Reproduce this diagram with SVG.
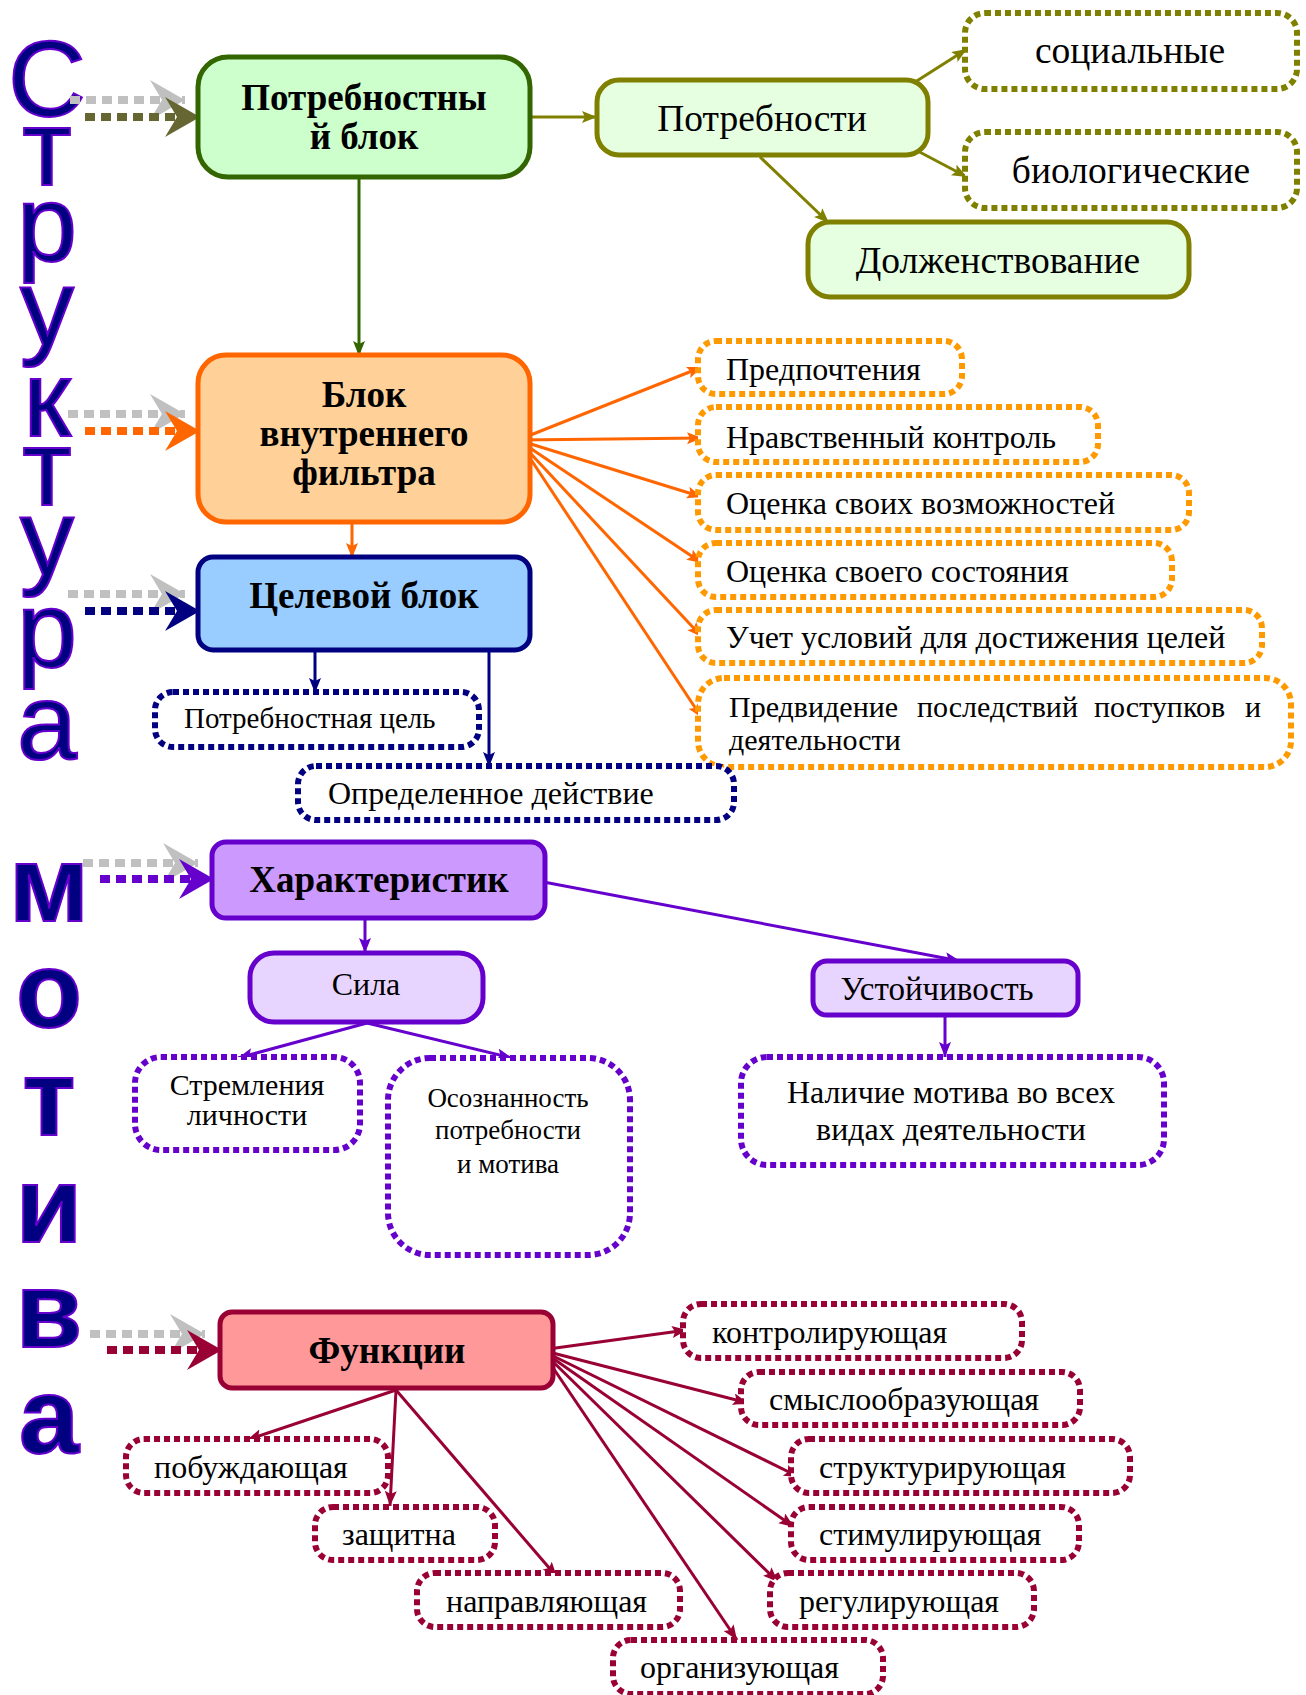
<svg xmlns="http://www.w3.org/2000/svg" width="1306" height="1695" viewBox="0 0 1306 1695">
<style>
text{font-family:"Liberation Serif","Times New Roman",serif;fill:#000}
.b{font-weight:bold;font-size:37px;text-anchor:middle}
.t36{font-size:37.5px;text-anchor:middle}
.t31{font-size:32px}
.t30{font-size:30px}
.t32{font-size:32px}
.c{text-anchor:middle}
.big{font-family:"Liberation Sans",Arial,sans-serif;font-size:108px;fill:#000080;stroke:#6600CC;stroke-width:2;text-anchor:middle}
.bigb{font-weight:bold}
.solid{stroke-width:5}
.dot{fill:#fff;stroke-width:6;stroke-dasharray:6 4}
.conn{fill:none;stroke-width:3}
.lead{fill:none;stroke-width:8;stroke-dasharray:10 6}
</style>
<defs>
<marker id="aOl" markerUnits="userSpaceOnUse" markerWidth="16" markerHeight="14" refX="15" refY="6" orient="auto"><path d="M0,0 L15,6 L0,12 L3,6 z" fill="#808000"/></marker>
<marker id="aGr" markerUnits="userSpaceOnUse" markerWidth="16" markerHeight="14" refX="15" refY="6" orient="auto"><path d="M0,0 L15,6 L0,12 L3,6 z" fill="#336600"/></marker>
<marker id="aOr" markerUnits="userSpaceOnUse" markerWidth="16" markerHeight="14" refX="15" refY="6" orient="auto"><path d="M0,0 L15,6 L0,12 L3,6 z" fill="#FF6600"/></marker>
<marker id="aNv" markerUnits="userSpaceOnUse" markerWidth="16" markerHeight="14" refX="15" refY="6" orient="auto"><path d="M0,0 L15,6 L0,12 L3,6 z" fill="#000080"/></marker>
<marker id="aPu" markerUnits="userSpaceOnUse" markerWidth="16" markerHeight="14" refX="15" refY="6" orient="auto"><path d="M0,0 L15,6 L0,12 L3,6 z" fill="#6600CC"/></marker>
<marker id="aCr" markerUnits="userSpaceOnUse" markerWidth="16" markerHeight="14" refX="15" refY="6" orient="auto"><path d="M0,0 L15,6 L0,12 L3,6 z" fill="#990033"/></marker>
<marker id="bGy" markerUnits="userSpaceOnUse" markerWidth="36" markerHeight="40" refX="35" refY="20" orient="auto"><path d="M0,0 L35,20 L0,40 L12,20 z" fill="#C0C0C0"/></marker>
<marker id="bOl" markerUnits="userSpaceOnUse" markerWidth="36" markerHeight="40" refX="35" refY="20" orient="auto"><path d="M0,0 L35,20 L0,40 L12,20 z" fill="#666633"/></marker>
<marker id="bOr" markerUnits="userSpaceOnUse" markerWidth="36" markerHeight="40" refX="35" refY="20" orient="auto"><path d="M0,0 L35,20 L0,40 L12,20 z" fill="#FF6600"/></marker>
<marker id="bNv" markerUnits="userSpaceOnUse" markerWidth="36" markerHeight="40" refX="35" refY="20" orient="auto"><path d="M0,0 L35,20 L0,40 L12,20 z" fill="#000080"/></marker>
<marker id="bPu" markerUnits="userSpaceOnUse" markerWidth="36" markerHeight="40" refX="35" refY="20" orient="auto"><path d="M0,0 L35,20 L0,40 L12,20 z" fill="#6600CC"/></marker>
<marker id="bCr" markerUnits="userSpaceOnUse" markerWidth="36" markerHeight="40" refX="35" refY="20" orient="auto"><path d="M0,0 L35,20 L0,40 L12,20 z" fill="#990033"/></marker>
</defs>
<rect width="1306" height="1695" fill="#fff"/>

<g id="title">
<text class="big" x="47" y="116">С</text>
<text class="big" x="47" y="185">т</text>
<text class="big" x="47" y="261">р</text>
<text class="big" x="47" y="345">у</text>
<text class="big" x="47" y="436">к</text>
<text class="big" x="47" y="505">т</text>
<text class="big" x="47" y="575">у</text>
<text class="big" x="47" y="667">р</text>
<text class="big" x="47" y="759">а</text>
<text class="big bigb" x="49" y="921">м</text>
<text class="big bigb" x="49" y="1027">о</text>
<text class="big bigb" x="49" y="1135">т</text>
<text class="big bigb" x="49" y="1242">и</text>
<text class="big bigb" x="49" y="1347">в</text>
<text class="big bigb" x="49" y="1453">а</text>
</g>

<g id="connectors">
<line class="lead" stroke="#C0C0C0" x1="70" y1="100" x2="185" y2="100" marker-end="url(#bGy)"/>
<line class="lead" stroke="#666633" x1="85" y1="117" x2="200" y2="117" marker-end="url(#bOl)"/>
<line class="lead" stroke="#C0C0C0" x1="68" y1="414" x2="185" y2="414" marker-end="url(#bGy)"/>
<line class="lead" stroke="#FF6600" x1="85" y1="431" x2="200" y2="431" marker-end="url(#bOr)"/>
<line class="lead" stroke="#C0C0C0" x1="68" y1="594" x2="185" y2="594" marker-end="url(#bGy)"/>
<line class="lead" stroke="#000080" x1="85" y1="611" x2="200" y2="611" marker-end="url(#bNv)"/>
<line class="lead" stroke="#C0C0C0" x1="83" y1="863" x2="198" y2="863" marker-end="url(#bGy)"/>
<line class="lead" stroke="#6600CC" x1="100" y1="879" x2="214" y2="879" marker-end="url(#bPu)"/>
<line class="lead" stroke="#C0C0C0" x1="90" y1="1334" x2="205" y2="1334" marker-end="url(#bGy)"/>
<line class="lead" stroke="#990033" x1="107" y1="1350" x2="222" y2="1350" marker-end="url(#bCr)"/>

<line class="conn" stroke="#808000" x1="520" y1="117" x2="597" y2="117" marker-end="url(#aOl)"/>
<line class="conn" stroke="#808000" x1="912" y1="84" x2="967" y2="49" marker-end="url(#aOl)"/>
<line class="conn" stroke="#808000" x1="912" y1="148" x2="967" y2="177" marker-end="url(#aOl)"/>
<line class="conn" stroke="#808000" x1="760" y1="157" x2="829" y2="223" marker-end="url(#aOl)"/>
<line class="conn" stroke="#336600" x1="359" y1="177" x2="359" y2="356" marker-end="url(#aGr)"/>
<line class="conn" stroke="#FF6600" x1="352" y1="522" x2="352" y2="558" marker-end="url(#aOr)"/>
<line class="conn" stroke="#FF6600" x1="518" y1="440" x2="702" y2="367" marker-end="url(#aOr)"/>
<line class="conn" stroke="#FF6600" x1="518" y1="440" x2="702" y2="438" marker-end="url(#aOr)"/>
<line class="conn" stroke="#FF6600" x1="518" y1="440" x2="702" y2="497" marker-end="url(#aOr)"/>
<line class="conn" stroke="#FF6600" x1="518" y1="440" x2="702" y2="563" marker-end="url(#aOr)"/>
<line class="conn" stroke="#FF6600" x1="518" y1="440" x2="702" y2="637" marker-end="url(#aOr)"/>
<line class="conn" stroke="#FF6600" x1="518" y1="440" x2="702" y2="718" marker-end="url(#aOr)"/>
<line class="conn" stroke="#000080" x1="315" y1="650" x2="315" y2="693" marker-end="url(#aNv)"/>
<line class="conn" stroke="#000080" x1="489" y1="650" x2="489" y2="767" marker-end="url(#aNv)"/>
<line class="conn" stroke="#6600CC" x1="365" y1="918" x2="365" y2="953" marker-end="url(#aPu)"/>
<line class="conn" stroke="#6600CC" x1="533" y1="880" x2="960" y2="961" marker-end="url(#aPu)"/>
<line class="conn" stroke="#6600CC" x1="367" y1="1023" x2="238" y2="1058" marker-end="url(#aPu)"/>
<line class="conn" stroke="#6600CC" x1="367" y1="1023" x2="512" y2="1058" marker-end="url(#aPu)"/>
<line class="conn" stroke="#6600CC" x1="945" y1="1015" x2="945" y2="1057" marker-end="url(#aPu)"/>
<line class="conn" stroke="#990033" x1="396" y1="1390" x2="247" y2="1440" marker-end="url(#aCr)"/>
<line class="conn" stroke="#990033" x1="396" y1="1390" x2="390" y2="1506" marker-end="url(#aCr)"/>
<line class="conn" stroke="#990033" x1="396" y1="1390" x2="557" y2="1577" marker-end="url(#aCr)"/>
<line class="conn" stroke="#990033" x1="541" y1="1350" x2="687" y2="1330" marker-end="url(#aCr)"/>
<line class="conn" stroke="#990033" x1="541" y1="1350" x2="748" y2="1403" marker-end="url(#aCr)"/>
<line class="conn" stroke="#990033" x1="541" y1="1350" x2="799" y2="1477" marker-end="url(#aCr)"/>
<line class="conn" stroke="#990033" x1="541" y1="1350" x2="794" y2="1527" marker-end="url(#aCr)"/>
<line class="conn" stroke="#990033" x1="541" y1="1350" x2="778" y2="1582" marker-end="url(#aCr)"/>
<line class="conn" stroke="#990033" x1="541" y1="1350" x2="737" y2="1640" marker-end="url(#aCr)"/>
</g>

<g id="n-potr-block"><rect class="solid" x="198" y="57" width="332" height="120" rx="30" fill="#CCFFCC" stroke="#336600"/><text class="b" x="364" y="110">Потребностны</text><text class="b" x="364" y="149">й блок</text></g>
<g id="n-potrebnosti"><rect class="solid" x="597" y="80" width="331" height="75" rx="22" fill="#E6FFE0" stroke="#808000"/><text class="t36" x="762" y="131">Потребности</text></g>
<g id="n-social"><rect class="dot" x="965" y="13" width="332" height="76" rx="20" stroke="#808000"/><text class="t36" x="1130" y="63">социальные</text></g>
<g id="n-bio"><rect class="dot" x="965" y="132" width="332" height="76" rx="20" stroke="#808000"/><text class="t36" x="1131" y="183">биологические</text></g>
<g id="n-dolzh"><rect class="solid" x="808" y="222" width="381" height="75" rx="22" fill="#E6FFE0" stroke="#808000"/><text class="t36" x="998" y="273">Долженствование</text></g>

<g id="n-filter"><rect class="solid" x="198" y="355" width="332" height="167" rx="28" fill="#FFD199" stroke="#FF6600"/><text class="b" x="364" y="407">Блок</text><text class="b" x="364" y="446">внутреннего</text><text class="b" x="364" y="485">фильтра</text></g>
<g id="n-pref"><rect class="dot" x="698" y="341" width="264" height="53" rx="18" stroke="#FF9900"/><text class="t31" x="726" y="380">Предпочтения</text></g>
<g id="n-moral"><rect class="dot" x="698" y="407" width="400" height="55" rx="18" stroke="#FF9900"/><text class="t31" x="726" y="448">Нравственный контроль</text></g>
<g id="n-ocen1"><rect class="dot" x="698" y="475" width="491" height="55" rx="18" stroke="#FF9900"/><text class="t31" x="726" y="514">Оценка своих возможностей</text></g>
<g id="n-ocen2"><rect class="dot" x="698" y="543" width="474" height="54" rx="18" stroke="#FF9900"/><text class="t31" x="726" y="582">Оценка своего состояния</text></g>
<g id="n-uchet"><rect class="dot" x="698" y="610" width="564" height="53" rx="18" stroke="#FF9900"/><text class="t31" x="726" y="648">Учет условий для достижения целей</text></g>
<g id="n-predv"><rect class="dot" x="698" y="678" width="593" height="89" rx="26" stroke="#FF9900"/><text class="t30" y="717"><tspan x="729">Предвидение</tspan><tspan x="917">последствий</tspan><tspan x="1094">поступков</tspan><tspan x="1245">и</tspan></text><text class="t30" x="729" y="750">деятельности</text></g>

<g id="n-target"><rect class="solid" x="198" y="557" width="332" height="93" rx="15" fill="#99CCFF" stroke="#000080"/><text class="b" x="364" y="608">Целевой блок</text></g>
<g id="n-goal"><rect class="dot" x="155" y="692" width="324" height="55" rx="18" stroke="#000080"/><text font-size="29" x="184" y="728">Потребностная цель</text></g>
<g id="n-action"><rect class="dot" x="298" y="766" width="436" height="54" rx="18" stroke="#000080"/><text class="t32" x="328" y="804">Определенное действие</text></g>

<g id="n-char"><rect class="solid" x="212" y="842" width="333" height="76" rx="14" fill="#CC99FF" stroke="#6600CC"/><text class="b" x="379" y="892" font-size="37.5">Характеристик</text></g>
<g id="n-sila"><rect class="solid" x="250" y="953" width="233" height="69" rx="24" fill="#E8D5FF" stroke="#6600CC"/><text class="t31 c" x="366" y="995">Сила</text></g>
<g id="n-ustoich"><rect class="solid" x="813" y="961" width="265" height="54" rx="14" fill="#E8D5FF" stroke="#6600CC"/><text class="c" font-size="33" x="937" y="1000">Устойчивость</text></g>
<g id="n-strem"><rect class="dot" x="135" y="1057" width="225" height="93" rx="26" stroke="#6600CC"/><text class="c" font-size="30" x="247" y="1095">Стремления</text><text class="c" font-size="30" x="247" y="1125">личности</text></g>
<g id="n-osozn"><rect class="dot" x="388" y="1058" width="242" height="197" rx="42" stroke="#6600CC"/><text class="c" font-size="27" x="508" y="1107">Осознанность</text><text class="c" font-size="27" x="508" y="1139">потребности</text><text class="c" font-size="27" x="508" y="1173">и мотива</text></g>
<g id="n-nalich"><rect class="dot" x="741" y="1057" width="423" height="108" rx="26" stroke="#6600CC"/><text class="t32 c" x="951" y="1103">Наличие мотива во всех</text><text class="t32 c" x="951" y="1140">видах деятельности</text></g>

<g id="n-func"><rect class="solid" x="220" y="1312" width="333" height="76" rx="12" fill="#FF9999" stroke="#990033"/><text class="b" x="387" y="1363">Функции</text></g>
<g id="n-kontrol"><rect class="dot" x="683" y="1304" width="339" height="54" rx="18" stroke="#990033"/><text class="t32" x="712" y="1343">контролирующая</text></g>
<g id="n-smysl"><rect class="dot" x="741" y="1372" width="339" height="53" rx="18" stroke="#990033"/><text class="t32" x="769" y="1410">смыслообразующая</text></g>
<g id="n-strukt"><rect class="dot" x="791" y="1439" width="339" height="54" rx="18" stroke="#990033"/><text class="t32" x="819" y="1478">структурирующая</text></g>
<g id="n-stimul"><rect class="dot" x="791" y="1507" width="288" height="53" rx="18" stroke="#990033"/><text class="t32" x="819" y="1545">стимулирующая</text></g>
<g id="n-regul"><rect class="dot" x="770" y="1573" width="264" height="54" rx="18" stroke="#990033"/><text class="t32" x="799" y="1612">регулирующая</text></g>
<g id="n-organiz"><rect class="dot" x="613" y="1640" width="270" height="54" rx="18" stroke="#990033"/><text class="t32" x="640" y="1678">организующая</text></g>
<g id="n-pobuzh"><rect class="dot" x="126" y="1439" width="262" height="54" rx="18" stroke="#990033"/><text class="t32" x="154" y="1478">побуждающая</text></g>
<g id="n-zashch"><rect class="dot" x="315" y="1507" width="180" height="53" rx="18" stroke="#990033"/><text class="t32" x="342" y="1545">защитна</text></g>
<g id="n-napravl"><rect class="dot" x="417" y="1573" width="263" height="54" rx="18" stroke="#990033"/><text class="t32" x="446" y="1612">направляющая</text></g>
</svg>
